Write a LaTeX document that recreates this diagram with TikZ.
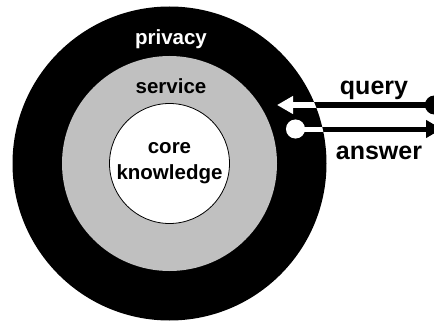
\documentclass[tikz,border=0pt]{standalone}
\usepackage{fontspec}
\setmainfont{Liberation Sans}
\usetikzlibrary{arrows.meta}
\definecolor{ringgray}{RGB}{192,192,192}
\tikzset{
  ring/.style={circle, inner sep=0pt, outer sep=0pt},
  lbl/.style={font=\bfseries\fontsize{20.5}{26}\selectfont, inner sep=0pt, anchor=base},
  biglbl/.style={font=\bfseries\fontsize{25}{30}\selectfont, inner sep=0pt, anchor=base},
  flow/.style={line width=5pt, {Circle[length=19pt]}-{Triangle[length=16pt,width=17pt]}}
}
\begin{document}
\begin{tikzpicture}[x=1pt,y=-1pt]
\useasboundingbox (0,0) rectangle (434,321);
\node[ring, fill=black, minimum size=314pt] (outer) at (169.5,163.5) {};
\node[ring, fill=ringgray, minimum size=215pt] (mid) at (169.5,163.5) {};
\node[ring, fill=white, draw=black, line width=0.8pt, minimum size=120pt] (core) at (169.5,163.5) {};
\node[lbl, text=white] (privacy) at (171,45) {privacy};
\node[lbl] (service) at (171,93) {service};
\node[lbl, align=center, anchor=center] (coretext) at (169.5,163) {core\\knowledge};
\node[biglbl] (query) at (374,95) {query};
\node[biglbl] (answer) at (379,159) {answer};
\coordinate (qs) at (444,105);
\coordinate (qe) at (277,105);
\coordinate (as) at (286,129);
\coordinate (ae) at (442,129);
\draw[flow, black] (qs) -- (qe);
\draw[flow, black] (as) -- (ae);
\begin{scope}
\clip (outer.center) circle[radius=157pt];
\draw[flow, white] (qs) -- (qe);
\draw[flow, white] (as) -- (ae);
\end{scope}
\end{tikzpicture}
\end{document}
